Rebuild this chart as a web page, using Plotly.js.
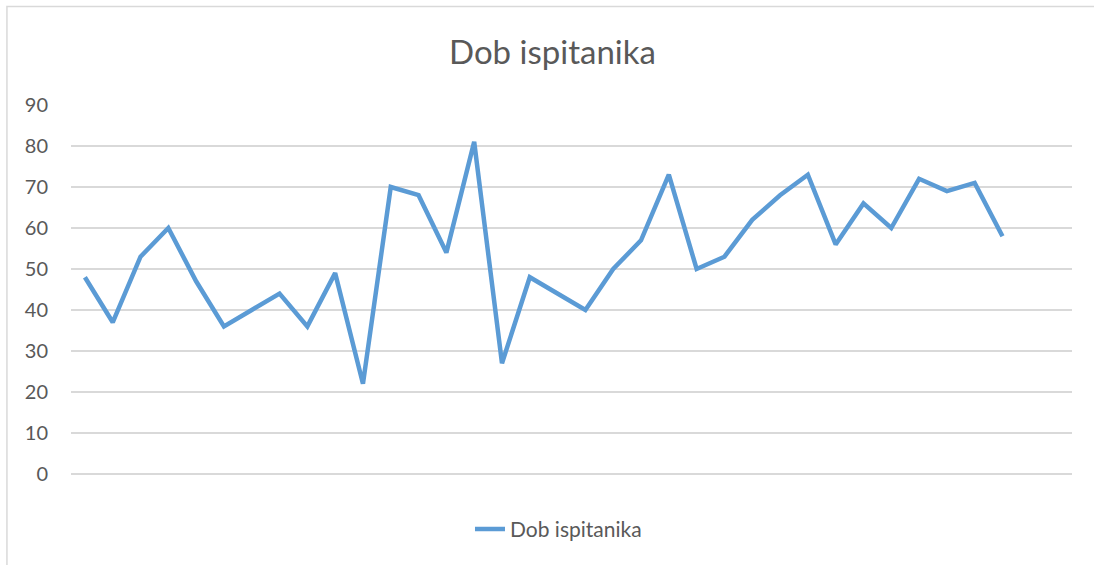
<!DOCTYPE html>
<html>
<head>
<meta charset="utf-8">
<script src="https://cdn.plot.ly/plotly-3.0.1.min.js"></script>
<style>html,body{margin:0;padding:0;background:#fff;}#chart{width:1094px;height:565px;}</style>
</head>
<body>
<div id="chart"></div>
<script>
const categories = [1,2,3,4,5,6,7,8,9,10,11,12,13,14,15,16,17,18,19,20,21,22,23,24,25,26,27,28,29,30,31,32,33,34];
const ages = [48,37,53,60,47,36,40,44,36,49,22,70,68,54,81,27,48,44,40,50,57,73,50,53,62,68,73,56,66,60,72,69,71,58];
const seriesName = "Dob ispitanika";
const chartTitle = "Dob ispitanika";
const yTicks = [0,10,20,30,40,50,60,70,80,90];

const font = "Lato, 'Open Sans', sans-serif";
const trace = {
  x: categories.map((c, i) => i),
  y: ages,
  name: seriesName,
  type: "scatter",
  mode: "lines",
  line: {color: "#5B9BD5", width: 4.5},
  showlegend: true
};
const layout = {
  width: 1094, height: 565,
  margin: {l: 71, r: 22, t: 105, b: 91},
  paper_bgcolor: "#fff", plot_bgcolor: "#fff",
  title: {text: chartTitle, x: 0.505, xanchor: "center", y: 0.908, yanchor: "middle",
          font: {family: font, size: 33, color: "#595959"}},
  xaxis: {range: [-0.5, 35.5], showticklabels: false, showgrid: false, zeroline: false,
          showline: false, ticks: "", fixedrange: true},
  yaxis: {range: [0, 90], tickvals: yTicks, showgrid: true, gridcolor: "#D9D9D9", gridwidth: 1.3,
          zeroline: true, zerolinecolor: "#D9D9D9", zerolinewidth: 1.3, showline: false, ticks: "",
          ticklabelstandoff: 22, tickfont: {family: font, size: 20, color: "#595959"}},
  legend: {orientation: "h", x: 0.487, xanchor: "center", y: -0.15, yanchor: "middle",
           font: {family: font, size: 21, color: "#595959"}, itemwidth: 30},
  shapes: [{type: "rect", xref: "paper", yref: "paper",
            x0: -0.064, x1: 1.2, y0: -0.4, y1: (474 - 6.5) / 369,
            line: {color: "#D9D9D9", width: 1.5}, fillcolor: "rgba(0,0,0,0)", layer: "below"}]
};
Plotly.newPlot("chart", [trace], layout, {staticPlot: true, displayModeBar: false});
</script>
</body>
</html>
